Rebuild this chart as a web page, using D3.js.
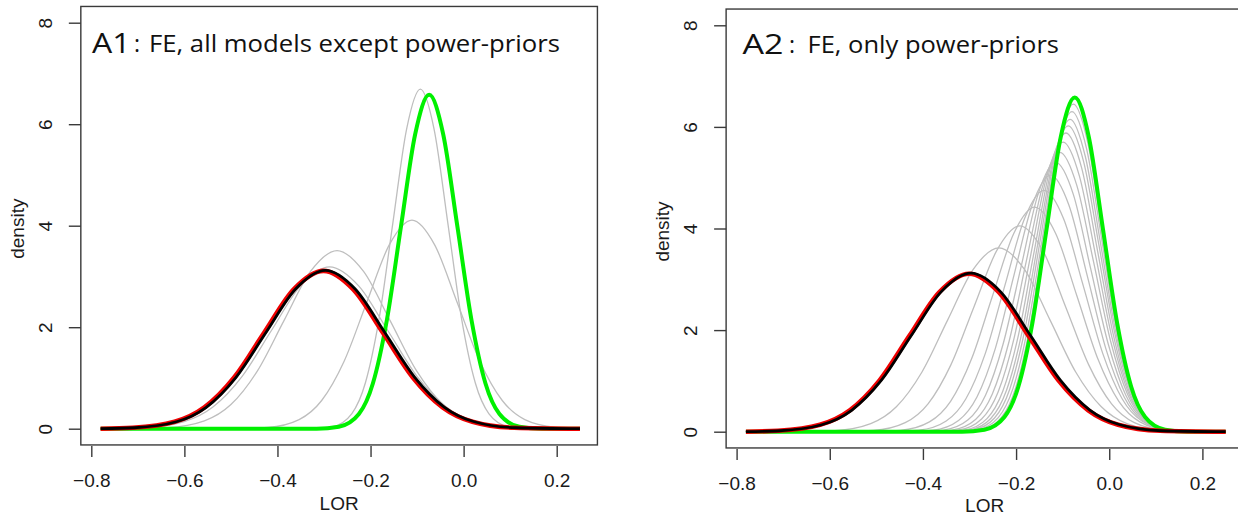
<!DOCTYPE html>
<html>
<head>
<meta charset="utf-8">
<script src="https://cdn.jsdelivr.net/npm/d3@7"></script>
<style>
  html, body { margin: 0; padding: 0; background: #fff; }
  svg { display: block; }
  .tick-label { font-family: "Liberation Sans", Arial, sans-serif; font-size: 19px; fill: #1a1a1a; }
  .axis-title { font-family: "Liberation Sans", Arial, sans-serif; font-size: 19px; fill: #1a1a1a; }
  .panel-title { font-family: "Open Sans", "Noto Sans", sans-serif; fill: #111; }
</style>
</head>
<body>
<svg id="chart" width="1238" height="516"></svg>
<script>
const d3 = globalThis.d3;

// ---- data ----
const xTicks = [-0.8, -0.6, -0.4, -0.2, 0.0, 0.2];
const yTicks = [0, 2, 4, 6, 8];
const panelCodes = ["A1", "A2"];
const panelTitles = ["FE, all models except power-priors", "FE, only power-priors"];
const xLabel = "LOR";
const yLabel = "density";

// density curves as [LOR, density] knots
const redCurve = [[-0.78,0],[-0.711,0.019],[-0.621,0.137],[-0.557,0.421],[-0.493,1.010],[-0.429,1.886],[-0.365,2.745],[-0.301,3.11],[-0.237,2.745],[-0.173,1.886],[-0.109,1.010],[-0.045,0.421],[0.019,0.137],[0.109,0.019],[0.25,0]];
const blackCurve = [[-0.78,0],[-0.707,0.019],[-0.617,0.137],[-0.553,0.422],[-0.489,1.013],[-0.425,1.892],[-0.361,2.753],[-0.297,3.12],[-0.233,2.753],[-0.169,1.892],[-0.105,1.013],[-0.041,0.422],[0.023,0.137],[0.113,0.019],[0.25,0]];
const greenCurve = [[-0.78,0],[-0.316,0],[-0.268,0.039],[-0.225,0.289],[-0.195,0.890],[-0.165,2.137],[-0.1345,3.991],[-0.104,5.807],[-0.074,6.58],[-0.044,5.807],[-0.0135,3.991],[0.017,2.137],[0.047,0.890],[0.077,0.289],[0.120,0.039],[0.168,0],[0.25,0]];

const a1GrayCurves = [
  [[-0.78,0],[-0.329,0],[-0.282,0.040],[-0.2405,0.294],[-0.211,0.905],[-0.1815,2.172],[-0.152,4.057],[-0.1225,5.904],[-0.093,6.69],[-0.0635,5.904],[-0.034,4.057],[-0.0045,2.172],[0.025,0.905],[0.0545,0.294],[0.096,0.040],[0.143,0],[0.25,0]],
  [[-0.78,0],[-0.499,0],[-0.421,0.025],[-0.3535,0.180],[-0.305,0.556],[-0.2565,1.335],[-0.208,2.493],[-0.1595,3.627],[-0.111,4.11],[-0.0625,3.627],[-0.014,2.493],[0.0345,1.335],[0.083,0.556],[0.1315,0.180],[0.199,0.025],[0.25,0]],
  [[-0.78,0],[-0.728,0],[-0.637,0.021],[-0.557,0.154],[-0.500,0.475],[-0.443,1.140],[-0.386,2.129],[-0.329,3.098],[-0.272,3.51],[-0.215,3.098],[-0.158,2.129],[-0.101,1.140],[-0.044,0.475],[0.013,0.154],[0.093,0.021],[0.184,0],[0.25,0]],
  [[-0.78,0],[-0.688,0.019],[-0.6005,0.140],[-0.538,0.432],[-0.4755,1.036],[-0.413,1.935],[-0.3505,2.815],[-0.288,3.19],[-0.2255,2.815],[-0.163,1.935],[-0.1005,1.036],[-0.038,0.432],[0.0245,0.140],[0.112,0.019],[0.212,0],[0.25,0]]
];

const a2GrayCurves = [
  [[-0.78,0],[-0.677,0],[-0.589,0.022],[-0.512,0.159],[-0.457,0.490],[-0.402,1.175],[-0.347,2.196],[-0.292,3.195],[-0.237,3.62],[-0.182,3.195],[-0.127,2.196],[-0.072,1.175],[-0.017,0.490],[0.038,0.159],[0.115,0.022],[0.203,0],[0.25,0]],
  [[-0.78,0],[-0.586,0],[-0.507,0.024],[-0.438,0.178],[-0.389,0.548],[-0.340,1.315],[-0.2905,2.456],[-0.241,3.574],[-0.192,4.05],[-0.143,3.574],[-0.0935,2.456],[-0.044,1.315],[0.005,0.548],[0.054,0.178],[0.123,0.024],[0.202,0],[0.25,0]],
  [[-0.78,0],[-0.521,0],[-0.449,0.027],[-0.386,0.194],[-0.3406,0.598],[-0.2955,1.435],[-0.2503,2.681],[-0.205,3.901],[-0.160,4.42],[-0.115,3.901],[-0.0697,2.681],[-0.0245,1.435],[0.0206,0.598],[0.0658,0.194],[0.129,0.027],[0.201,0],[0.25,0]],
  [[-0.78,0],[-0.476,0],[-0.409,0.029],[-0.350,0.209],[-0.308,0.643],[-0.266,1.542],[-0.224,2.881],[-0.182,4.192],[-0.140,4.75],[-0.098,4.192],[-0.056,2.881],[-0.014,1.542],[0.028,0.643],[0.070,0.209],[0.129,0.029],[0.196,0],[0.25,0]],
  [[-0.78,0],[-0.442,0],[-0.379,0.030],[-0.3235,0.222],[-0.284,0.683],[-0.2445,1.640],[-0.205,3.063],[-0.1655,4.457],[-0.126,5.05],[-0.0865,4.457],[-0.047,3.063],[-0.0075,1.640],[0.032,0.683],[0.0715,0.222],[0.127,0.030],[0.190,0],[0.25,0]],
  [[-0.78,0],[-0.416,0],[-0.356,0.032],[-0.303,0.233],[-0.2656,0.717],[-0.228,1.721],[-0.190,3.214],[-0.1527,4.677],[-0.115,5.30],[-0.0773,4.677],[-0.040,3.214],[-0.002,1.721],[0.0356,0.717],[0.0733,0.233],[0.126,0.032],[0.186,0],[0.25,0]],
  [[-0.78,0],[-0.396,0],[-0.338,0.033],[-0.287,0.241],[-0.251,0.744],[-0.2148,1.786],[-0.1785,3.336],[-0.1423,4.854],[-0.106,5.50],[-0.0698,4.854],[-0.0335,3.336],[0.0028,1.786],[0.039,0.744],[0.0753,0.241],[0.126,0.033],[0.184,0],[0.25,0]],
  [[-0.78,0],[-0.379,0],[-0.323,0.034],[-0.274,0.250],[-0.239,0.771],[-0.204,1.851],[-0.169,3.457],[-0.134,5.030],[-0.099,5.70],[-0.064,5.030],[-0.029,3.457],[0.006,1.851],[0.041,0.771],[0.076,0.250],[0.125,0.034],[0.181,0],[0.25,0]],
  [[-0.78,0],[-0.364,0],[-0.310,0.035],[-0.2625,0.258],[-0.2286,0.796],[-0.1947,1.909],[-0.1608,3.566],[-0.1269,5.189],[-0.093,5.88],[-0.0591,5.189],[-0.0252,3.566],[0.0087,1.909],[0.0426,0.796],[0.0765,0.258],[0.124,0.035],[0.178,0],[0.25,0]],
  [[-0.78,0],[-0.353,0],[-0.300,0.036],[-0.2538,0.264],[-0.2205,0.815],[-0.1874,1.955],[-0.1543,3.651],[-0.1212,5.313],[-0.088,6.02],[-0.0549,5.313],[-0.0217,3.651],[0.0115,1.955],[0.0446,0.815],[0.0778,0.264],[0.124,0.036],[0.177,0],[0.25,0]],
  [[-0.78,0],[-0.344,0],[-0.292,0.037],[-0.2463,0.270],[-0.2138,0.832],[-0.1814,1.997],[-0.1489,3.730],[-0.1165,5.427],[-0.084,6.15],[-0.0516,5.427],[-0.0191,3.730],[0.0134,1.997],[0.0458,0.832],[0.0783,0.270],[0.124,0.037],[0.176,0],[0.25,0]],
  [[-0.78,0],[-0.333,0],[-0.283,0.038],[-0.2383,0.277],[-0.2066,0.852],[-0.175,2.046],[-0.1433,3.821],[-0.1117,5.560],[-0.080,6.30],[-0.0484,5.560],[-0.0167,3.821],[0.015,2.046],[0.0466,0.852],[0.0783,0.277],[0.123,0.038],[0.173,0],[0.25,0]],
  [[-0.78,0],[-0.324,0],[-0.275,0.039],[-0.2315,0.283],[-0.2006,0.873],[-0.1697,2.094],[-0.1388,3.912],[-0.1079,5.692],[-0.077,6.45],[-0.0461,5.692],[-0.0152,3.912],[0.0157,2.094],[0.0466,0.873],[0.0775,0.283],[0.121,0.039],[0.170,0],[0.25,0]]
];

// ---- layout ----
const xLim = [-0.8225, 0.2875];
const yLim = [-0.32, 8.32];
const panels = [
  { code: panelCodes[0], title: panelTitles[0], grays: a1GrayCurves,
    xPx: [91.3, 556.7], yPx: [428.7, 22.7], labelY: 510,
    codeX: 92, codeW: 38.5, colonX: 134, titleX: 149, titleW: 411, baseline: 53 },
  { code: panelCodes[1], title: panelTitles[1], grays: a2GrayCurves,
    xPx: [736.6, 1202.4], yPx: [431.7, 25.3], labelY: 511.5,
    codeX: 742.5, codeW: 41, colonX: 789, titleX: 807.5, titleW: 251.5, baseline: 54 }
];

const svg = d3.select("#chart");
svg.append("rect").attr("width", 1238).attr("height", 516).attr("fill", "#fff");

panels.forEach(p => {
  const x = d3.scaleLinear().domain([-0.8, 0.2]).range(p.xPx);
  const y = d3.scaleLinear().domain([0, 8]).range(p.yPx);
  const g = svg.append("g");

  const left = x(xLim[0]), right = x(xLim[1]);
  const top = y(yLim[1]), bottom = y(yLim[0]);

  const line = d3.line()
    .x(d => x(d[0]))
    .y(d => y(d[1]))
    .curve(d3.curveMonotoneX);

  const curves = g.append("g");
  curves.selectAll("path.gray")
    .data(p.grays)
    .join("path")
    .attr("class", "gray")
    .attr("d", line)
    .attr("fill", "none")
    .attr("stroke", "#bebebe")
    .attr("stroke-width", 1.3);

  curves.append("path").datum(greenCurve).attr("d", line)
    .attr("fill", "none").attr("stroke", "#00f000").attr("stroke-width", 4)
    .attr("stroke-linejoin", "round");
  curves.append("path").datum(redCurve).attr("d", line)
    .attr("fill", "none").attr("stroke", "#ee0000").attr("stroke-width", 4.6)
    .attr("stroke-linejoin", "round");
  curves.append("path").datum(blackCurve).attr("d", line)
    .attr("fill", "none").attr("stroke", "#000").attr("stroke-width", 2.8)
    .attr("stroke-linejoin", "round");

  // frame
  g.append("rect")
    .attr("x", left).attr("y", top)
    .attr("width", right - left).attr("height", bottom - top)
    .attr("fill", "none").attr("stroke", "#3a3a3a").attr("stroke-width", 1.4);

  // x axis
  const xAxis = g.append("g")
    .attr("transform", `translate(0,${bottom + 1})`)
    .call(d3.axisBottom(x).tickValues(xTicks).tickSize(11).tickSizeOuter(0)
      .tickFormat(d3.format(".1f")));
  xAxis.select(".domain").remove();
  xAxis.attr("font-size", null).attr("font-family", null);
  xAxis.selectAll(".tick line").attr("stroke", "#3a3a3a").attr("stroke-width", 1.4);
  xAxis.selectAll(".tick text")
    .attr("class", "tick-label")
    .attr("y", 486.7 - 444.9 - 1)
    .attr("dy", 0);

  // y axis
  const yAxis = g.append("g")
    .attr("transform", `translate(${left},0)`)
    .call(d3.axisLeft(y).tickValues(yTicks).tickSize(12).tickSizeOuter(0));
  yAxis.select(".domain").remove();
  yAxis.attr("font-size", null).attr("font-family", null);
  yAxis.selectAll(".tick line").attr("stroke", "#3a3a3a").attr("stroke-width", 1.4);
  yAxis.selectAll(".tick text")
    .attr("class", "tick-label")
    .attr("transform", "rotate(-90)")
    .attr("x", 0)
    .attr("y", -28.7)
    .attr("dy", 0)
    .attr("text-anchor", "middle");

  // axis titles
  g.append("text")
    .attr("class", "axis-title")
    .attr("x", (left + right) / 2)
    .attr("y", p.labelY)
    .attr("text-anchor", "middle")
    .text(xLabel);

  g.append("text")
    .attr("class", "axis-title")
    .attr("transform", `translate(${left - 57},${(top + bottom) / 2 + 3}) rotate(-90)`)
    .attr("text-anchor", "middle")
    .text(yLabel);

  // panel title
  g.append("text")
    .attr("class", "panel-title")
    .attr("x", p.codeX).attr("y", p.baseline)
    .attr("font-size", 27)
    .attr("textLength", p.codeW).attr("lengthAdjust", "spacingAndGlyphs")
    .text(p.code);
  g.append("text")
    .attr("class", "panel-title")
    .attr("x", p.colonX).attr("y", p.baseline - 1)
    .attr("font-size", 23)
    .text(":");
  g.append("text")
    .attr("class", "panel-title")
    .attr("x", p.titleX).attr("y", p.baseline - 1)
    .attr("font-size", 24)
    .attr("textLength", p.titleW).attr("lengthAdjust", "spacingAndGlyphs")
    .text(p.title);
});
</script>
</body>
</html>
